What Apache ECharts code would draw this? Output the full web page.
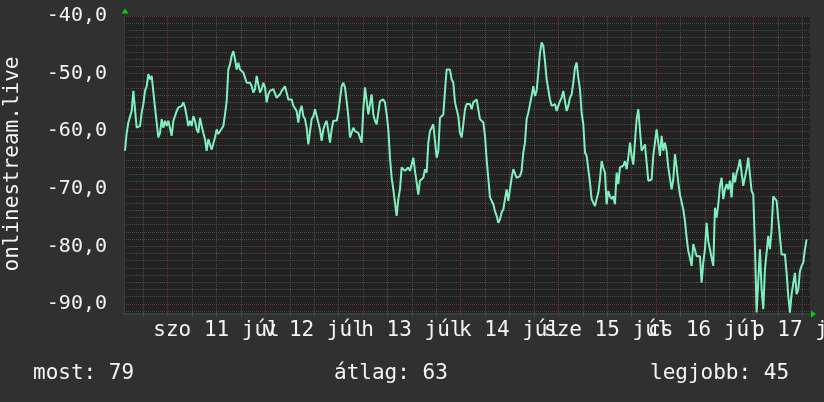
<!DOCTYPE html>
<html>
<head>
<meta charset="utf-8">
<script src="https://cdn.jsdelivr.net/npm/echarts@6/dist/echarts.min.js"></script>
<style>
html, body { margin: 0; padding: 0; background: #303030; }
#chart { width: 824px; height: 402px; }
</style>
</head>
<body>
<div id="chart"></div>
<script>
// jelszint (dBm), kb. 25 percenként, júl 10 13:30-tól
var startHour = -10.49;   // órák júl 11 00:00-hoz képest
var stepHour = 0.4095;
var signal = [
    -63.4, -60.3, -58.5, -58.2, -56.5, -53.0, -53.3, -59.4, -59.4, -59.1,
    -56.8, -55.3, -53.0, -52.2, -50.1, -51.0, -50.4, -50.7, -55.9, -55.9,
    -61.1, -60.3, -57.9, -59.4, -58.2, -59.1, -58.2, -58.5, -60.8, -58.2,
    -57.4, -56.5, -55.9, -55.9, -55.6, -55.0, -55.9, -57.4, -59.1, -58.2,
    -59.1, -57.4, -58.2, -59.7, -60.3, -57.7, -59.1, -60.3, -61.4, -63.4,
    -61.4, -61.7, -63.2, -63.2, -61.1, -59.7, -60.5, -60.0, -59.7, -59.1,
    -57.1, -54.8, -49.3, -48.4, -46.9, -46.1, -47.5, -49.3, -48.1, -49.3,
    -49.0, -49.8, -50.7, -51.6, -51.3, -51.6, -52.2, -53.3, -52.7, -50.4,
    -51.9, -53.3, -52.7, -51.6, -52.4, -55.0, -53.6, -53.0, -53.0, -52.7,
    -52.4, -54.2, -53.9, -53.6, -53.0, -52.7, -52.2, -52.2, -54.5, -54.2,
    -54.5, -55.6, -55.3, -56.5, -58.5, -56.5, -55.6, -57.4, -57.9, -59.4,
    -62.3, -62.6, -57.9, -57.4, -56.2, -56.2, -58.5, -59.7, -61.7, -59.7,
    -58.8, -58.2, -60.0, -62.0, -59.7, -58.2, -57.9, -58.2, -56.8, -54.5,
    -52.2, -51.6, -52.4, -54.8, -57.4,
    -61.1, -60.8, -59.4, -60.0, -60.0, -60.3, -60.0, -62.0, -56.2, -52.4,
    -52.7, -57.1, -55.3, -53.6, -57.1, -58.2, -58.8, -58.5, -54.8, -54.5,
    -54.5, -55.0, -57.1, -59.7, -64.6, -68.1, -70.1, -72.4, -74.7, -71.8,
    -70.1, -66.3, -66.6, -66.9, -67.2, -66.3, -66.9, -66.6, -64.6, -66.9,
    -68.9, -71.0, -68.6, -68.4, -68.1, -66.6, -67.2, -62.0, -60.0, -59.4,
    -58.8, -58.8, -64.6, -63.4, -57.7, -57.4, -57.1, -53.0, -49.3, -49.0,
    -49.3, -51.0, -51.6, -55.0, -55.0, -57.4, -60.3, -61.1, -58.8, -56.2,
    -55.3, -55.6, -55.3, -56.2, -55.0, -54.8, -54.5, -54.5, -57.9, -57.9,
    -58.5, -60.8, -64.9, -68.1, -71.5, -71.8, -72.7, -73.9, -74.7, -75.9,
    -75.3, -74.1, -73.6, -71.8, -70.1, -72.1, -72.1, -68.1, -66.6, -66.3,
    -68.1, -68.1, -67.8, -66.9, -63.7, -62.0, -57.9, -56.8, -56.8, -53.9,
    -52.2, -53.9, -53.0, -49.8, -46.4, -44.6, -45.2, -47.8, -51.0, -51.3,
    -54.5, -55.6, -55.9, -55.3, -56.5, -55.6, -54.8, -54.2, -53.0, -54.8,
    -56.5, -55.6, -54.2, -53.6, -51.6, -49.0, -48.1, -50.7,
    -52.7, -56.8, -58.8, -63.7, -64.3, -64.6, -68.9, -71.8, -71.8, -73.0,
    -71.8, -70.7, -68.4, -65.2, -66.3, -67.2, -72.7, -70.4, -71.3, -71.8,
    -71.3, -72.7, -67.2, -69.2, -66.3, -66.3, -66.0, -65.2, -66.6, -64.6,
    -62.0, -64.3, -65.8, -66.0, -57.9, -56.2, -56.2, -63.4, -63.2, -62.3,
    -62.0, -68.6, -68.6, -68.4, -64.3, -64.6, -59.7, -60.0, -64.3, -60.8,
    -63.4, -62.0, -63.4, -66.3, -66.3, -70.1, -68.4, -64.0, -66.3, -68.9,
    -71.0, -71.3, -73.6, -75.6, -78.5, -80.8, -82.0, -83.4, -79.6, -79.4,
    -81.7, -81.7, -81.7, -86.3, -82.8, -80.5, -75.9, -79.1, -80.5, -82.0,
    -83.4, -73.3, -75.0, -72.7, -69.5, -68.1, -71.8, -70.1, -69.2, -70.1,
    -68.6, -71.5, -67.2, -68.9, -67.2, -66.3, -64.9, -64.6, -69.5, -69.8,
    -66.6, -64.6, -67.5, -70.4, -71.0, -79.9, -91.5, -91.8, -80.5, -87.5,
    -90.9, -84.0, -81.1, -78.2, -80.5, -77.0, -71.3, -71.0, -72.1, -75.3,
    -75.0, -81.4, -81.4, -81.4, -84.6, -88.6, -91.5, -88.3, -88.0, -84.6,
    -88.3, -87.5, -84.3, -83.4, -82.8, -80.5, -78.8
];

var dayLabels = ['szo 11 júl', 'v 12 júl', 'h 13 júl', 'k 14 júl', 'sze 15 júl', 'cs 16 júl', 'p 17 júl'];
var labelHours = [12, 36, 60, 84, 108, 132, 156];
var dayStarts = [0, 24, 48, 72, 96, 120, 144];
var yTicks = [-90, -80, -70, -60, -50, -40];
var statTexts = ['most: 79', 'átlag: 63', 'legjobb: 45'];

var xMin = -10.74, xMax = 157.83;
var yMin = -91.75, yMax = -40;

var FONT = 'DejaVu Sans Mono';
var TXT = '#f4f4f4';
var MINOR = '#4a4a4a';
var MAJOR = '#72302e';

// segédrács: 6 óránként és 1,25 dB-enként
var minorX = [];
for (var h = -6; h <= 156; h += 6) {
    if (h % 24 !== 0) minorX.push(h);
}
var minorY = [];
for (var k = 1; k * 1.25 <= 51.75; k++) {
    if (k % 8 !== 0) minorY.push(-40 - k * 1.25);
}

// a feliratok egymásba lógnak, ezért két tengelyre osztva (ne rejtse el őket)
var labelsA = labelHours.filter(function (v, i) { return i % 2 === 0; });
var labelsB = labelHours.filter(function (v, i) { return i % 2 === 1; });

function dayLabel (v) {
    return dayLabels[labelHours.indexOf(Math.round(v))] || '';
}

function labelAxis (values) {
    return {
        type: 'value', min: xMin, max: xMax, position: 'bottom',
        axisLine: {show: false},
        axisTick: {show: false},
        splitLine: {show: false},
        axisLabel: {
            show: true,
            customValues: values,
            showMinLabel: true,
            showMaxLabel: true,
            hideOverlap: false,
            margin: 6,
            color: TXT,
            fontFamily: FONT,
            fontSize: 21,
            formatter: dayLabel
        }
    };
}

var points = [];
for (var i = 0; i < signal.length; i++) {
    points.push([startHour + i * stepHour, signal[i]]);
}

var chart = echarts.init(document.getElementById('chart'), null, {renderer: 'canvas'});

var xMinorAxis = {
    type: 'value', min: xMin, max: xMax, position: 'bottom',
    axisLine: {show: false},
    axisTick: {show: true, customValues: minorX, length: 3, lineStyle: {color: MINOR}},
    axisLabel: {show: false},
    splitLine: {show: true, lineStyle: {color: MINOR, type: [1, 1], width: 1}}
};
var xMajorAxis = {
    type: 'value', min: xMin, max: xMax, position: 'bottom',
    axisLine: {show: true, onZero: false, lineStyle: {color: '#3c3c3c', width: 2}},
    axisTick: {show: true, customValues: dayStarts, length: 3, lineStyle: {color: MAJOR}},
    axisLabel: {show: false},
    splitLine: {show: true, lineStyle: {color: MAJOR, type: [1, 1], width: 1}}
};

var option = {
    animation: false,
    backgroundColor: '#303030',
    grid: {
        left: 124,
        right: 14,
        top: 16,
        bottom: 88,
        show: true,
        backgroundColor: '#222222',
        borderWidth: 0,
        containLabel: false,
        outerBoundsMode: 'none'
    },
    xAxis: [xMinorAxis, xMajorAxis, labelAxis(labelsA), labelAxis(labelsB)],
    yAxis: [
        {
            type: 'value', min: yMin, max: yMax, position: 'left',
            axisLine: {show: false},
            axisTick: {show: false, customValues: minorY},
            axisLabel: {show: false},
            splitLine: {show: true, lineStyle: {color: MINOR, type: [1, 1], width: 1}}
        },
        {
            type: 'value', min: yMin, max: yMax, position: 'left',
            axisLine: {show: true, onZero: false, lineStyle: {color: '#3c3c3c', width: 1}},
            axisTick: {show: false, customValues: yTicks},
            axisLabel: {
                show: true,
                customValues: yTicks,
                showMinLabel: true,
                showMaxLabel: true,
                margin: 17,
                color: TXT,
                fontFamily: FONT,
                fontSize: 20,
                formatter: function (v) {
                    return v.toFixed(1).replace('.', ',');
                }
            },
            splitLine: {show: true, lineStyle: {color: MAJOR, type: [1, 1], width: 1}}
        }
    ],
    series: [
        {
            type: 'line',
            xAxisIndex: 1,
            yAxisIndex: 1,
            data: points,
            symbol: 'none',
            showSymbol: false,
            clip: true,
            lineStyle: {color: '#80f0c0', width: 2},
            z: 5
        }
    ],
    graphic: [
        {
            type: 'text', x: 13, y: 164, rotation: Math.PI / 2,
            style: {text: 'onlinestream.live', fill: TXT, font: '21px "' + FONT + '"', align: 'center', verticalAlign: 'middle'}
        },
        {
            type: 'text', x: 33, y: 374,
            style: {text: statTexts[0], fill: TXT, font: '21px "' + FONT + '"', align: 'left', verticalAlign: 'middle'}
        },
        {
            type: 'text', x: 334, y: 374,
            style: {text: statTexts[1], fill: TXT, font: '21px "' + FONT + '"', align: 'left', verticalAlign: 'middle'}
        },
        {
            type: 'text', x: 650, y: 374,
            style: {text: statTexts[2], fill: TXT, font: '21px "' + FONT + '"', align: 'left', verticalAlign: 'middle'}
        },
        {
            type: 'polygon', z: 10,
            shape: {points: [[125, 8.5], [121.5, 13.5], [128.5, 13.5]]},
            style: {fill: '#00d000'}
        },
        {
            type: 'polygon', z: 10,
            shape: {points: [[816, 314], [811, 310.5], [811, 317.5]]},
            style: {fill: '#00d000'}
        }
    ]
};

chart.setOption(option);
</script>
</body>
</html>
